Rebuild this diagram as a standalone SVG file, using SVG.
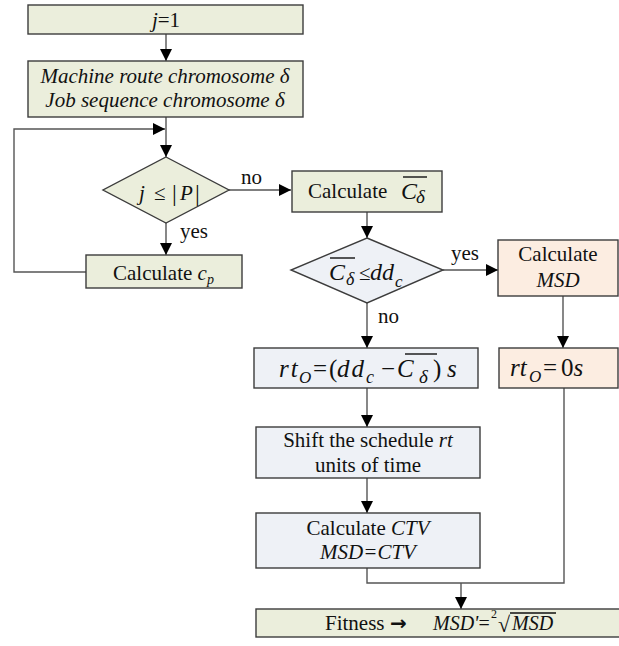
<svg xmlns="http://www.w3.org/2000/svg" width="619" height="646" viewBox="0 0 619 646">
<style>
text{font-family:"Liberation Serif","Times New Roman",serif;font-size:21px;fill:#111}
.i{font-style:italic}
.g{fill:#ebeedc;stroke:#3c3c3c;stroke-width:1.4}
.b{fill:#eef1f6;stroke:#3c3c3c;stroke-width:1.4}
.p{fill:#fcede1;stroke:#3c3c3c;stroke-width:1.4}
.c{fill:none;stroke:#555;stroke-width:1.4}
.ov{stroke:#111;stroke-width:1.4}
</style>
<defs>
<marker id="ah" markerUnits="userSpaceOnUse" markerWidth="12" markerHeight="12" refX="12" refY="6" orient="auto">
<path d="M0,0 L12,6 L0,12 z" fill="#000"/>
</marker>
</defs>
<g id="connectors">
<line class="c" x1="166" y1="34" x2="166" y2="61" marker-end="url(#ah)"/>
<line class="c" x1="166" y1="117" x2="166" y2="157" marker-end="url(#ah)"/>
<polyline class="c" points="86,272 14,272 14,129 165,129" marker-end="url(#ah)"/>
<line class="c" x1="229" y1="190" x2="291" y2="190" marker-end="url(#ah)"/>
<line class="c" x1="166" y1="223" x2="166" y2="255" marker-end="url(#ah)"/>
<line class="c" x1="367" y1="212" x2="367" y2="238" marker-end="url(#ah)"/>
<line class="c" x1="443" y1="270" x2="498" y2="270" marker-end="url(#ah)"/>
<line class="c" x1="367" y1="303" x2="367" y2="348" marker-end="url(#ah)"/>
<line class="c" x1="563" y1="296" x2="563" y2="348" marker-end="url(#ah)"/>
<line class="c" x1="367" y1="388" x2="367" y2="427" marker-end="url(#ah)"/>
<line class="c" x1="367" y1="478" x2="367" y2="513" marker-end="url(#ah)"/>
<polyline class="c" points="367,568 367,583 564,583 564,388"/>
<line class="c" x1="461" y1="583" x2="461" y2="609" marker-end="url(#ah)"/>
<text x="241" y="184">no</text>
<text x="180" y="238">yes</text>
<text x="451" y="260">yes</text>
<text x="378" y="323">no</text>
</g>
<g id="n_j1">
<rect class="g" x="28" y="5" width="275" height="29"/>
<text x="166" y="27" text-anchor="middle"><tspan class="i">j</tspan>=1</text>
</g>
<g id="n_chrom">
<rect class="g" x="28" y="61" width="275" height="56"/>
<text class="i" x="165" y="83" text-anchor="middle">Machine route chromosome δ</text>
<text class="i" x="165" y="107" text-anchor="middle">Job sequence chromosome δ</text>
</g>
<g id="n_dec1">
<polygon class="g" points="166,157 229,190 166,223 103,190"/>
<text class="i" x="139" y="200">j</text>
<text x="154" y="200">≤</text>
<text x="172" y="201" style="font-size:24px">|</text>
<text class="i" x="180" y="200">P</text>
<text x="195" y="201" style="font-size:24px">|</text>
</g>
<g id="n_cp">
<rect class="g" x="86" y="255" width="156" height="33"/>
<text x="113" y="280">Calculate <tspan class="i">c</tspan><tspan class="i" style="font-size:14px" dy="4">p</tspan></text>
</g>
<g id="n_cbar">
<rect class="g" x="292" y="171" width="150" height="41"/>
<text x="308" y="198">Calculate</text>
<line class="ov" x1="403" y1="177" x2="427" y2="177"/>
<text class="i" x="401" y="199" style="font-size:24px">C</text>
<text class="i" x="416" y="203" style="font-size:19px">δ</text>
</g>
<g id="n_dec2">
<polygon class="b" points="367,238 443,270 367,303 291,270"/>
<line class="ov" x1="330" y1="258" x2="355" y2="258"/>
<text class="i" x="329" y="280" style="font-size:24px">C</text>
<text class="i" x="346" y="285" style="font-size:18px">δ</text>
<text x="359" y="280">≤</text>
<text class="i" x="370" y="280" style="font-size:24px">dd</text>
<text class="i" x="395" y="287" style="font-size:17px">c</text>
</g>
<g id="n_msd">
<rect class="p" x="498" y="240" width="120" height="56"/>
<text x="558" y="261" text-anchor="middle">Calculate</text>
<text class="i" x="558" y="287" text-anchor="middle">MSD</text>
</g>
<g id="n_rt">
<rect class="b" x="254" y="348" width="224" height="40"/>
<text class="i" x="279" y="377" style="font-size:25px;letter-spacing:2px">rt</text>
<text class="i" x="299" y="383" style="font-size:17px">O</text>
<text x="313" y="377" style="font-size:25px">=</text>
<text x="329" y="377" style="font-size:25px">(</text>
<text class="i" x="337" y="377" style="font-size:25px;letter-spacing:2px">dd</text>
<text class="i" x="366" y="383" style="font-size:18px">c</text>
<text x="381" y="377" style="font-size:25px">−</text>
<line class="ov" x1="405" y1="354" x2="437" y2="354"/>
<text class="i" x="397" y="377" style="font-size:25px">C</text>
<text class="i" x="419" y="383" style="font-size:19px">δ</text>
<text x="433" y="377" style="font-size:25px">)</text>
<text class="i" x="447" y="377" style="font-size:25px">s</text>
</g>
<g id="n_rt0">
<rect class="p" x="499" y="348" width="119" height="40"/>
<text class="i" x="510" y="376" style="font-size:25px">rt</text>
<text class="i" x="529" y="382" style="font-size:17px">O</text>
<text x="543" y="376" style="font-size:25px">=</text>
<text x="561" y="376" style="font-size:25px">0<tspan class="i">s</tspan></text>
</g>
<g id="n_shift">
<rect class="b" x="256" y="427" width="224" height="51"/>
<text x="368" y="447" text-anchor="middle">Shift the schedule <tspan class="i">rt</tspan></text>
<text x="368" y="472" text-anchor="middle">units of time</text>
</g>
<g id="n_ctv">
<rect class="b" x="256" y="513" width="224" height="55"/>
<text x="368" y="535" text-anchor="middle">Calculate <tspan class="i">CTV</tspan></text>
<text class="i" x="368" y="559" text-anchor="middle">MSD=CTV</text>
</g>
<g id="n_fit">
<rect class="g" x="256" y="609" width="370" height="28"/>
<text x="325" y="630">Fitness</text>
<text x="390" y="630" style="font-family:'DejaVu Sans',sans-serif;font-size:20px;font-weight:bold">→</text>
<text class="i" x="433" y="630" style="font-size:20px">MSD'<tspan style="font-style:normal">=</tspan></text>
<text x="491" y="618" style="font-size:12px">2</text>
<text x="498" y="632" style="font-size:22px">√</text>
<line class="ov" x1="510" y1="613" x2="556" y2="613"/>
<text class="i" x="512" y="630" style="font-size:20px">MSD</text>
</g>
</svg>
